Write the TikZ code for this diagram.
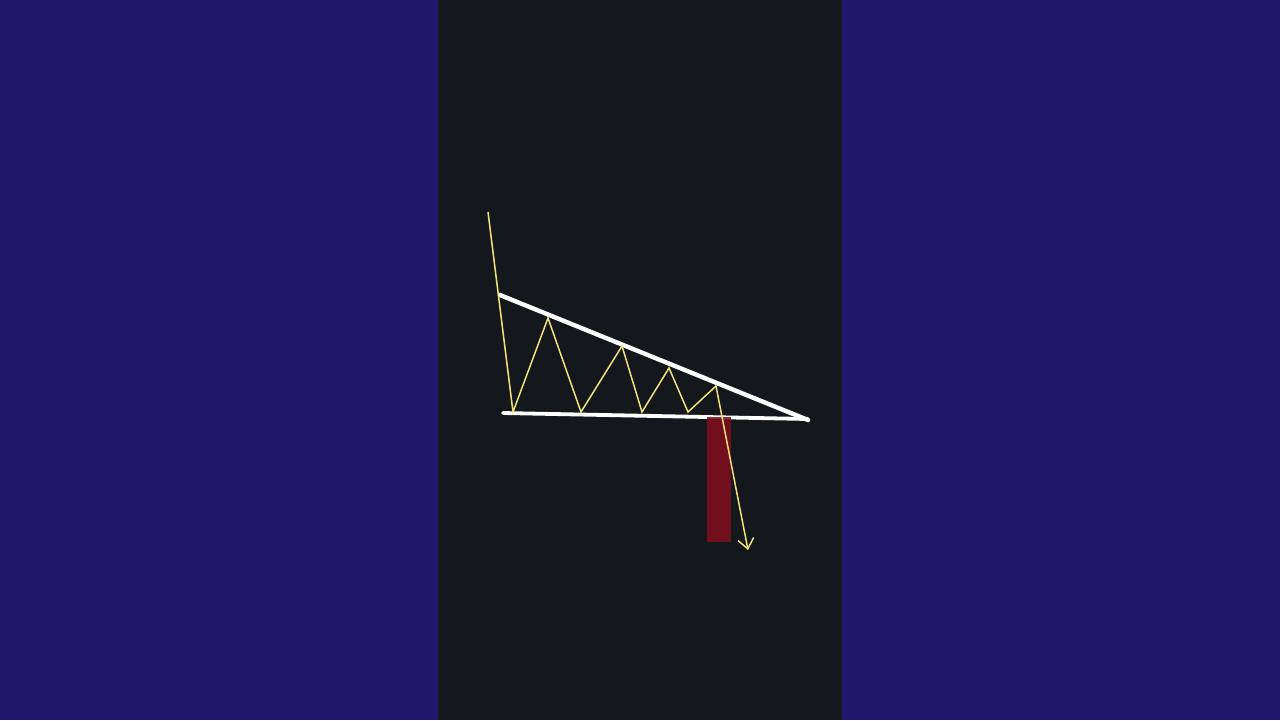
\documentclass[tikz,border=0pt]{standalone}
\usetikzlibrary{arrows.meta}
\definecolor{sideblue}{HTML}{21166C}
\definecolor{panel}{HTML}{14171C}
\definecolor{zig}{HTML}{EEE27A}
\definecolor{barred}{HTML}{7E0E1E}
\tikzset{
  trend/.style={draw=white, line width=2.2pt, line cap=round},
  price/.style={draw=zig, line width=0.75pt, line join=miter},
  bar/.style={fill=barred, fill opacity=0.88, draw=none}
}
\begin{document}
\begin{tikzpicture}[x=0.5pt,y=-0.5pt]
\useasboundingbox (0,0) rectangle (1280,720);
\fill[sideblue] (0,0) rectangle (1280,720);
\fill[panel] (438,0) rectangle (842,720);
% trend lines
\coordinate (ut1) at (500,295);
\coordinate (ut2) at (808,420);
\coordinate (lt1) at (503,413);
\coordinate (lt2) at (808,419);
\draw[trend] (ut1) -- (ut2);
\draw[trend, line width=1.9pt] (lt1) -- (lt2);
% breakout bar
\node[bar, minimum width=12pt, minimum height=62.5pt, inner sep=0pt, anchor=north west] (brk) at (707,416.5) {};
% price path
\coordinate (p0) at (488,212);
\coordinate (p1) at (513,412);
\coordinate (p2) at (548,318);
\coordinate (p3) at (581,412);
\coordinate (p4) at (622,346);
\coordinate (p5) at (642,412);
\coordinate (p6) at (669,368);
\coordinate (p7) at (688,412);
\coordinate (p8) at (716,386);
\coordinate (p9) at (748,550);
\draw[price, -{Straight Barb[length=5pt,width=8pt,line width=0.75pt]}] (p0) -- (p1) -- (p2) -- (p3) -- (p4) -- (p5) -- (p6) -- (p7) -- (p8) -- (p9);
\end{tikzpicture}
\end{document}
